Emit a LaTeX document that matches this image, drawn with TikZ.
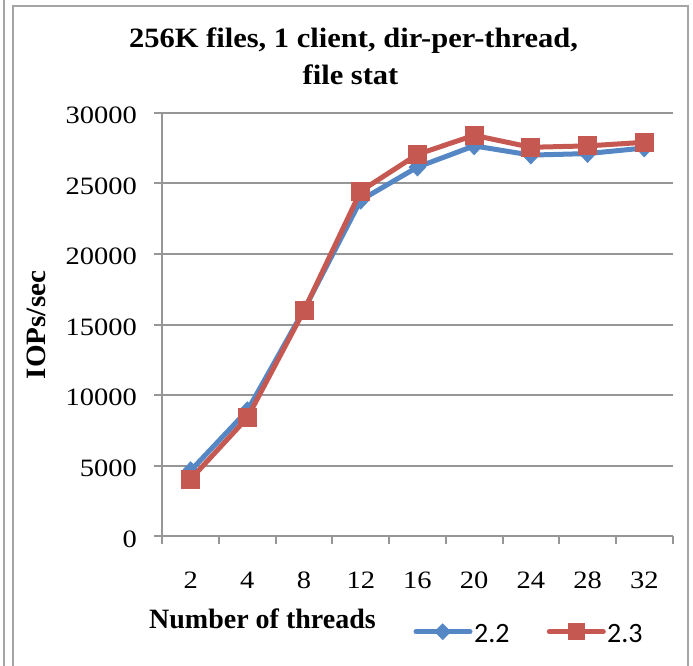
\documentclass[tikz,border=0pt]{standalone}
\usepackage{fontspec}
\setmainfont{Liberation Serif}
\newfontfamily\tickfont[FakeStretch=1.14]{Liberation Serif}
\newfontfamily\titlefont[FakeStretch=1.09]{Liberation Serif}
\newfontfamily\legfont{Carlito}
\usetikzlibrary{shapes.geometric}
\definecolor{serA}{RGB}{84,135,196}
\definecolor{serB}{RGB}{198,88,82}
\definecolor{gridc}{RGB}{150,150,150}
\definecolor{framec}{RGB}{165,165,165}
\tikzset{
  gridline/.style={draw=gridc, line width=2pt},
  framel/.style={draw=framec, line width=2pt},
  ticklab/.style={inner sep=0pt, font=\tickfont\fontsize{25}{30}\selectfont},
  titlelab/.style={inner sep=0pt, font=\titlefont\bfseries\fontsize{28}{34}\selectfont},
  axtitle/.style={inner sep=0pt, font=\bfseries\fontsize{28}{34}\selectfont},
  leglab/.style={inner sep=0pt, font=\legfont\fontsize{28}{34}\selectfont},
  serline/.style={line width=5pt, line join=round, line cap=round},
  dmark/.style={shape=diamond, fill=serA, inner sep=0pt, minimum width=18pt, minimum height=19pt},
  smark/.style={shape=rectangle, fill=serB, inner sep=0pt, minimum size=19pt},
}
\begin{document}
\begin{tikzpicture}[x=1pt,y=-1pt]
\useasboundingbox (0,0) rectangle (693,666);
% outer frames
\draw[framel] (4.3,-2) -- (4.3,668);
\draw[framel] (13,668) -- (13,5.7) -- (687.5,5.7) -- (687.5,668);
% title
\node[titlelab, anchor=base] (t1) at (353.5,47.7) {256K files, 1 client, dir-per-thread,};
\node[titlelab, anchor=base] (t2) at (350.5,85) {file stat};
% gridlines
\foreach \k in {0,...,6}
  \draw[gridline] (154,{536.3-70.6*\k}) -- (672.6,{536.3-70.6*\k});
\draw[gridline] (162.3,112.7) -- (162.3,544);
\foreach \k in {1,...,9}
  \draw[gridline] ({162.3+56.7*\k},536.3) -- ({162.3+56.7*\k},544);
% y labels
\foreach \v [count=\k from 0] in {0,5000,10000,15000,20000,25000,30000}
  \node[ticklab, anchor=base east] (yl\k) at (137,{536.3-70.6*\k+10.7}) {\v};
% x labels
\foreach \t [count=\k from 0] in {2,4,8,12,16,20,24,28,32}
  \node[ticklab, anchor=base] (xl\k) at ({190.65+56.7*\k},588) {\t};
% axis titles
\node[axtitle, rotate=90, anchor=base] (ytitle) at (45,325) {\scalebox{1.04}[1]{IOPs/sec}};
\node[axtitle, anchor=base] (xtitle) at (262.5,628) {Number of threads};
% data coordinates
\foreach \x/\y [count=\i] in {190.65/470.6,247.35/410.6,304.05/309.7,360.75/200.2,417.45/167.1,474.15/145.9,530.85/155.1,587.55/153.6,644.25/148.0}
  \coordinate (a\i) at (\x,\y);
\foreach \x/\y [count=\i] in {190.65/479.1,247.35/417.7,304.05/310.4,360.75/191.1,417.45/154.4,474.15/135.3,530.85/147.3,587.55/145.9,644.25/142.3}
  \coordinate (b\i) at (\x,\y);
% series 2.2
\draw[serline, serA] (a1) -- (a2) -- (a3) -- (a4) -- (a5) -- (a6) -- (a7) -- (a8) -- (a9);
\foreach \i in {1,...,9} \node[dmark] (ma\i) at (a\i) {};
% series 2.3
\draw[serline, serB] (b1) -- (b2) -- (b3) -- (b4) -- (b5) -- (b6) -- (b7) -- (b8) -- (b9);
\foreach \i in {1,...,9} \node[smark] (mb\i) at (b\i) {};
% legend
\coordinate (la0) at (416,631.7);
\coordinate (la1) at (470,631.7);
\coordinate (lb0) at (549.3,631.7);
\coordinate (lb1) at (603.3,631.7);
\draw[serline, serA] (la0) -- (la1);
\node[dmark, minimum width=17pt, minimum height=17pt] (lma) at (442.7,631.7) {};
\node[leglab, anchor=base west] (lta) at (474,642.5) {2.2};
\draw[serline, serB] (lb0) -- (lb1);
\node[smark, minimum size=17.5pt] (lmb) at (576.3,631.7) {};
\node[leglab, anchor=base west] (ltb) at (607,642.5) {2.3};
\end{tikzpicture}
\end{document}
